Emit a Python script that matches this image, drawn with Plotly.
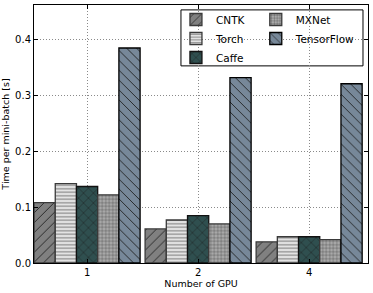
import plotly.graph_objects as go

categories = ["1", "2", "4"]
frameworks = ["CNTK", "Torch", "Caffe", "MXNet", "TensorFlow"]
cntk = [0.108, 0.061, 0.038]
torch = [0.142, 0.077, 0.047]
caffe = [0.137, 0.085, 0.047]
mxnet = [0.122, 0.070, 0.042]
tensorflow = [0.385, 0.332, 0.321]
y_ticks = [0.0, 0.1, 0.2, 0.3, 0.4]

series = [cntk, torch, caffe, mxnet, tensorflow]
colors = ["#808080", "#e3e3e3", "#2f4f4f", "#a9a9a9", "#778899"]
shapes = ["/", "-", "x", "+", "\\"]
sizes = [7, 3.5, 7, 3.5, 7]
edges = ["#3a3a3a", "#3a3a3a", "#111111", "#3a3a3a", "#000000"]
legend_ids = ["legend", "legend", "legend", "legend2", "legend2"]

fig = go.Figure()
for name, vals, col, sh, sz, ec, lg in zip(frameworks, series, colors, shapes, sizes, edges, legend_ids):
    fig.add_trace(go.Bar(
        x=categories, y=vals, name=name, legend=lg,
        marker=dict(color=col, line=dict(color=ec, width=1.3),
                    pattern=dict(shape=sh, fgcolor="#1a1a1a", bgcolor=col,
                                 size=sz, solidity=0.15 if sz < 5 else 0.12,
                                 fillmode="replace")),
    ))

font = "DejaVu Sans, sans-serif"
fig.update_layout(
    width=373, height=293,
    margin=dict(l=34, r=5, t=5, b=30, autoexpand=False),
    paper_bgcolor="white", plot_bgcolor="white",
    barmode="group", bargap=0.045, bargroupgap=0,
    font=dict(family=font, size=10, color="black"),
    showlegend=True,
    legend=dict(x=0.425, y=1.0, xanchor="left", yanchor="top",
                bgcolor="rgba(0,0,0,0)", borderwidth=0,
                font=dict(size=10.5), tracegroupgap=0, itemwidth=30),
    legend2=dict(x=0.664, y=1.0, xanchor="left", yanchor="top",
                 bgcolor="rgba(0,0,0,0)", borderwidth=0,
                 font=dict(size=10.5), tracegroupgap=0, itemwidth=30),
    shapes=[dict(type="rect", xref="paper", yref="paper",
                 x0=0.440, x1=0.985, y0=0.764, y1=0.981,
                 line=dict(color="black", width=1), fillcolor="white", layer="below")],
    xaxis=dict(type="category", range=[-0.478, 2.53], automargin=False,
               showline=True, linecolor="black", linewidth=1, mirror="ticks",
               ticks="inside", ticklen=4, tickcolor="black",
               showgrid=True, gridcolor="#8a8a8a", griddash="1px,2px", gridwidth=1,
               tickfont=dict(size=10),
               title=dict(text="Number of GPU", font=dict(size=9.5), standoff=2)),
    yaxis=dict(range=[0, 0.462], tickvals=y_ticks, tickformat=".1f", automargin=False,
               showline=True, linecolor="black", linewidth=1, mirror="ticks",
               ticks="inside", ticklen=4, tickcolor="black",
               showgrid=True, gridcolor="#8a8a8a", griddash="1px,2px", gridwidth=1,
               zeroline=False, tickfont=dict(size=10),
               title=dict(text="Time per mini-batch [s]", font=dict(size=9.5), standoff=4)),
)
fig.write_html("out.html", config={"displayModeBar": False},
               post_script="document.body.style.margin='0';document.body.style.padding='0';")
